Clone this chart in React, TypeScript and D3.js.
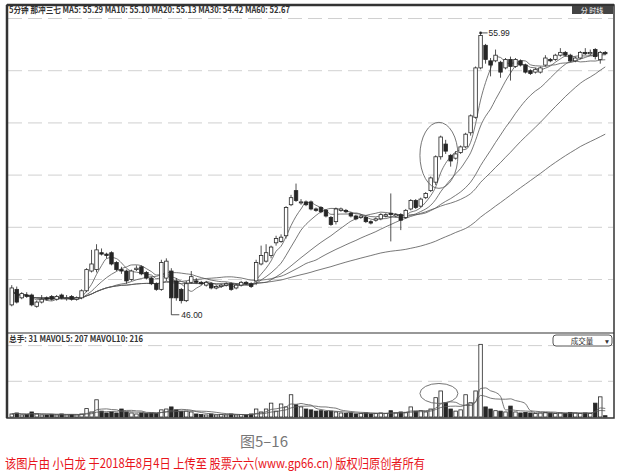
import React from "react";
import * as d3 from "d3";

const opens = [46.35,46.9,46.6,46.7,46.7,46.3,46.45,46.6,46.65,46.55,46.7,46.6,46.65,46.55,46.6,46.85,47.55,47.6,48.2,48.15,48.2,47.85,47.6,47.55,47.25,47.6,47.7,47.5,47.3,47.1,46.9,47.3,47.55,47.2,46.9,46.5,47.15,47.2,47.15,47.05,47.1,46.95,47.0,47.05,47.1,46.95,47.05,47.15,47.1,47.2,47.8,47.9,48.1,48.55,48.6,48.8,49.9,50.4,50.0,50.0,50.0,49.75,49.8,49.7,49.45,49.3,49.7,49.7,49.6,49.5,49.45,49.45,49.3,49.35,49.4,49.5,49.6,49.5,49.55,49.45,49.75,50.05,49.85,50.15,50.4,50.7,51.6,52.05,51.65,51.55,51.75,51.95,52.45,53.0,54.75,55.55,55.0,55.0,54.95,54.75,55.05,54.8,55.0,54.85,54.65,54.6,54.6,54.85,55.05,55.05,55.2,55.3,55.2,55.0,55.1,55.3,55.25,55.4,55.05,55.3];
const closes = [46.95,46.45,46.75,46.65,46.35,46.45,46.55,46.55,46.55,46.65,46.6,46.6,46.55,46.6,46.85,47.6,47.8,48.3,48.15,48.1,47.8,47.6,47.55,47.2,47.55,47.65,47.45,47.3,47.1,46.9,47.85,47.9,46.6,46.6,46.5,47.1,47.35,47.15,47.1,47.15,46.95,47.0,47.05,47.1,46.9,47.05,47.15,47.1,47.0,47.85,48.1,48.2,48.4,48.7,48.75,49.8,50.15,50.05,50.0,49.9,49.75,49.7,49.65,49.5,49.2,49.75,49.75,49.65,49.5,49.4,49.5,49.3,49.25,49.4,49.55,49.55,49.55,49.55,49.35,49.7,50.05,49.8,50.1,50.3,50.85,51.6,52.3,51.8,51.45,51.7,51.95,52.4,53.05,54.75,55.9,55.05,54.85,55.2,54.6,55.05,54.8,55.05,54.85,54.6,54.55,54.7,54.75,55.1,55.0,55.2,55.3,55.2,55.0,55.1,55.3,55.25,55.3,55.15,55.3,55.25];
const highs = [47.05,47.0,46.8,46.8,46.75,46.5,46.7,46.65,46.7,46.7,46.75,46.7,46.7,46.65,46.9,47.65,48.3,48.5,48.35,48.2,48.25,47.9,47.7,47.6,47.6,47.75,47.75,47.55,47.35,47.15,47.95,48.0,47.65,47.3,46.95,47.2,47.55,47.3,47.2,47.2,47.15,47.05,47.1,47.15,47.15,47.1,47.2,47.2,47.15,47.95,48.45,48.5,48.45,48.8,48.85,49.85,50.25,50.65,50.1,50.05,50.05,49.8,49.85,49.75,49.5,49.8,49.8,49.75,49.65,49.55,49.55,49.5,49.35,49.45,49.6,49.6,50.3,49.6,49.6,49.75,50.1,50.1,50.15,50.35,50.9,51.65,52.35,52.2,51.7,51.8,52.0,52.45,53.1,54.8,55.99,55.6,55.1,55.4,55.0,55.1,55.15,55.1,55.05,54.9,54.7,54.75,54.8,55.2,55.1,55.25,55.45,55.35,55.25,55.15,55.35,55.45,55.4,55.45,55.35,55.35];
const lows = [46.3,46.4,46.55,46.6,46.3,46.25,46.4,46.5,46.5,46.5,46.55,46.5,46.5,46.5,46.55,46.8,47.5,47.5,48.1,48.0,47.75,47.55,47.45,47.1,47.2,47.55,47.4,47.25,47.05,46.85,46.85,47.2,46.0,46.5,46.4,46.45,47.1,47.1,47.05,47.0,46.9,46.9,46.95,47.0,46.85,46.9,47.0,47.05,46.95,47.05,47.75,47.85,48.0,48.45,48.55,48.7,49.85,50.0,49.9,49.85,49.7,49.65,49.6,49.45,49.15,49.2,49.65,49.6,49.45,49.35,49.4,49.25,49.2,49.3,49.35,49.45,48.6,49.45,49.0,49.4,49.7,49.75,49.8,50.1,50.35,50.6,51.5,51.7,51.25,51.5,51.7,51.9,52.35,52.95,54.7,54.9,54.45,54.95,54.4,54.7,54.3,54.75,54.8,54.55,54.5,54.55,54.55,54.8,54.95,55.0,55.15,55.15,54.95,54.95,55.05,55.2,55.2,55.05,54.9,55.2];
const volumes = [72,96,48,60,120,72,48,48,60,48,72,48,60,48,72,200,120,410,140,96,120,96,190,120,96,72,96,84,96,84,170,190,240,170,140,140,120,72,60,48,72,48,60,48,72,48,60,48,72,190,120,190,330,140,310,240,530,290,240,190,170,140,150,130,140,120,96,84,96,72,84,96,72,84,96,84,150,96,120,110,240,140,150,120,190,460,620,340,190,140,170,530,340,620,1730,240,190,150,140,120,260,120,96,110,96,84,96,110,96,84,96,84,110,96,84,96,84,330,480,31];

const priceGrid = [47.25, 49.1, 50.95, 52.8, 54.65, 56.5];
const volGrid = [850, 1700];
const maPeriods = [5, 10, 20, 30, 60];
const volMaPeriods = [5, 10];
const headerText = "5分钟  那冲三七  MA5: 55.29  MA10: 55.10  MA20: 55.13  MA30: 54.42  MA60: 52.67";
const volHeaderText = "总手: 31  MAVOL5: 207  MAVOL10: 216";
const lowLabel = "46.00";
const highLabel = "55.99";
const figCaption = "图5–16";
const credit = "该图片由 小白龙 于2018年8月4日 上传至 股票六六(www.gp66.cn) 版权归原创者所有";

function movingAvg(arr: number[], n: number): number[] {
  return arr.map((_, i) => {
    const s = Math.max(0, i - n + 1);
    return d3.mean(arr.slice(s, i + 1)) as number;
  });
}

export default function App() {
  const N = closes.length;
  const x = d3.scaleBand<number>().domain(d3.range(N)).range([8.5, 608.5]).padding(0.3);
  const cx = (i: number) => (x(i) as number) + x.bandwidth() / 2;
  const y = d3.scaleLinear().domain([45.46, 56.66]).range([330, 14]);
  const yv = d3.scaleLinear().domain([0, 2000]).range([417, 333]);
  const ink = "#262626";

  const line = d3.line<number>().x((_, i) => cx(i)).y((d) => y(d)).curve(d3.curveMonotoneX);
  const vline = d3.line<number>().x((_, i) => cx(i)).y((d) => yv(d)).curve(d3.curveMonotoneX);

  const iLow = d3.minIndex(lows);
  const iHigh = d3.maxIndex(highs);

  return (
    <svg width={620} height={471} style={{ position: "absolute", left: 0, top: 0, background: "#fff" }}
      fontFamily="'Liberation Sans', Arial, sans-serif">
      <rect x={0} y={0} width={620} height={471} fill="#fff" />
      {/* grid */}
      {priceGrid.map((p) => (
        <line key={p} x1={8} x2={613} y1={y(p)} y2={y(p)} stroke="#bbb" strokeWidth={0.7} strokeDasharray="14 6" />
      ))}
      {volGrid.map((v) => (
        <line key={v} x1={8} x2={613} y1={yv(v)} y2={yv(v)} stroke="#bbb" strokeWidth={0.7} strokeDasharray="14 6" />
      ))}
      {/* MA lines */}
      {maPeriods.map((p) => (
        <path key={p} d={line(movingAvg(closes, p)) || ""} fill="none" stroke="#555" strokeWidth={0.8} />
      ))}
      {/* candles */}
      {closes.map((c, i) => {
        const o = opens[i];
        const up = c >= o;
        const top = y(Math.max(o, c));
        const bot = y(Math.min(o, c));
        return (
          <g key={i}>
            <line x1={cx(i)} x2={cx(i)} y1={y(highs[i])} y2={y(lows[i])} stroke={ink} strokeWidth={0.8} />
            <rect x={x(i)} y={top} width={x.bandwidth()} height={Math.max(1, bot - top)}
              fill={up ? "#fff" : ink} stroke={ink} strokeWidth={0.8} />
          </g>
        );
      })}
      {/* low / high labels */}
      <line x1={cx(iLow)} x2={cx(iLow) + 8} y1={y(lows[iLow])} y2={y(lows[iLow])} stroke={ink} strokeWidth={0.8} />
      <text x={cx(iLow) + 10} y={y(lows[iLow]) + 3} fontSize={8.5} fill={ink}>{lowLabel}</text>
      <line x1={cx(iHigh)} x2={cx(iHigh) + 7} y1={y(highs[iHigh])} y2={y(highs[iHigh])} stroke={ink} strokeWidth={0.8} />
      <circle cx={cx(iHigh)} cy={y(highs[iHigh])} r={1.3} fill={ink} />
      <text x={cx(iHigh) + 8} y={y(highs[iHigh]) + 3} fontSize={8.5} fill={ink}>{highLabel}</text>
      {/* ellipse main */}
      <ellipse cx={x(86) as number} cy={y(51.65)} rx={19} ry={33} fill="none" stroke="#666" strokeWidth={0.9} />
      {/* volume bars */}
      {volumes.map((v, i) => {
        const up = closes[i] >= opens[i];
        return (
          <rect key={i} x={x(i)} y={yv(v)} width={x.bandwidth()} height={Math.max(0.5, yv(0) - yv(v))}
            fill={up ? "#fff" : ink} stroke={ink} strokeWidth={0.8} />
        );
      })}
      {volMaPeriods.map((p) => (
        <path key={p} d={vline(movingAvg(volumes, p)) || ""} fill="none" stroke="#555" strokeWidth={0.8} />
      ))}
      <ellipse cx={x(86) as number} cy={yv(560)} rx={19} ry={10} fill="none" stroke="#666" strokeWidth={0.9} />
      {/* frame */}
      <rect x={7} y={5} width={607} height={413} fill="none" stroke="#333" strokeWidth={1.5} />
      <line x1={7} x2={614} y1={5} y2={5} stroke="#333" strokeWidth={2.5} />
      <line x1={7} x2={7} y1={5} y2={418} stroke="#333" strokeWidth={2.5} />
      <line x1={7} x2={614} y1={333} y2={333} stroke="#333" strokeWidth={1.2} />
      {/* header */}
      <text x={9} y={13} fontSize={8.5} fill="#333" fontWeight="bold" textLength={281} lengthAdjust="spacingAndGlyphs"
        fontFamily="'Noto Sans CJK SC', 'Liberation Sans', sans-serif">{headerText}</text>
      <rect x={572} y={6} width={41} height={8} fill="#444" />
      <text x={592} y={12.5} fontSize={7} fill="#fff" textAnchor="middle" fontFamily="'Noto Sans CJK SC', sans-serif">分 时线</text>
      <text x={9} y={342} fontSize={8.5} fill="#333" fontWeight="bold" textLength={134} lengthAdjust="spacingAndGlyphs"
        fontFamily="'Noto Sans CJK SC', 'Liberation Sans', sans-serif">{volHeaderText}</text>
      <rect x={553} y={335} width={59} height={11} rx={3} fill="#fff" stroke="#444" strokeWidth={0.9} />
      <text x={582} y={343.5} fontSize={7.5} fill="#333" textAnchor="middle" fontFamily="'Noto Sans CJK SC', sans-serif">成交量</text>
      <text x={607} y={343.5} fontSize={6.5} fill="#333" textAnchor="middle">▼</text>
      {/* caption */}
      <text x={264} y={447} fontSize={15} fill="#777" textAnchor="middle" fontFamily="'Noto Sans CJK SC', sans-serif">{figCaption}</text>
      <text x={5} y={468} fontSize={13} fill="#e8141b" textLength={420} lengthAdjust="spacingAndGlyphs"
        fontFamily="'Noto Sans CJK SC', sans-serif">{credit}</text>
    </svg>
  );
}
